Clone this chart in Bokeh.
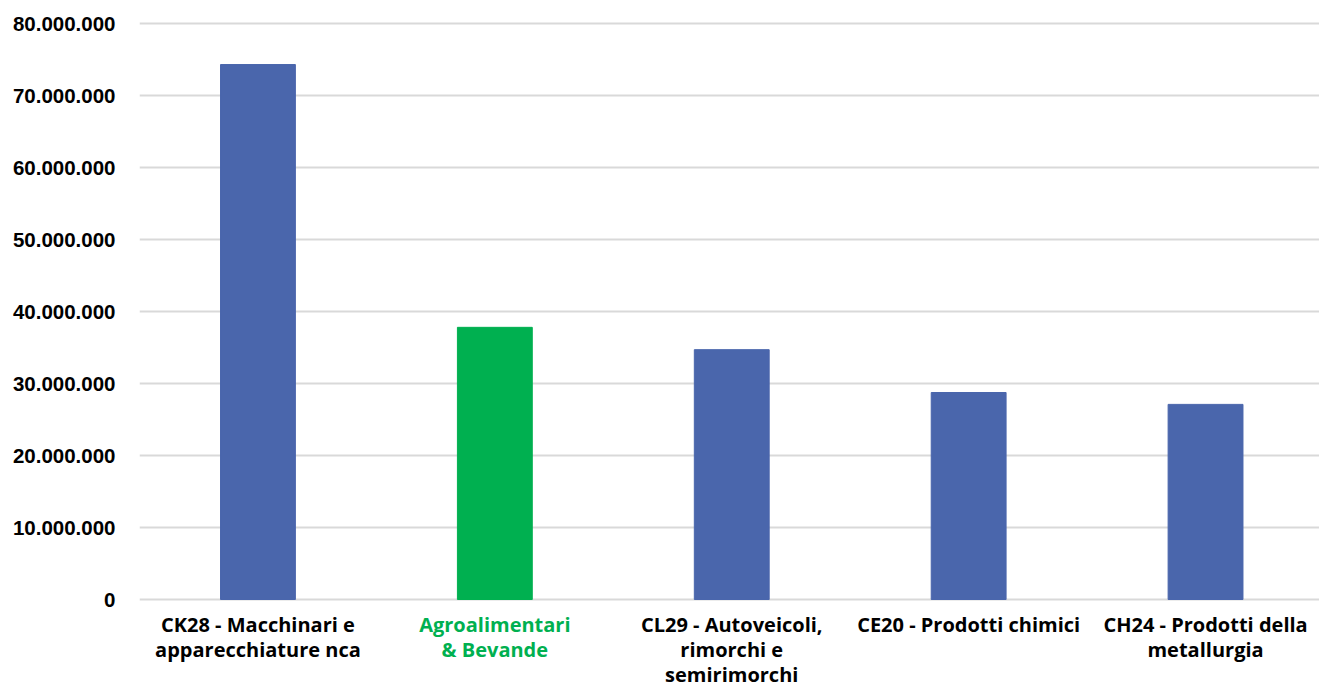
from bokeh.plotting import figure
from bokeh.models import Label, FixedTicker, Range1d, CustomJSTickFormatter
from bokeh.embed import file_html
from bokeh.resources import INLINE

categories = ["CK28 - Macchinari e\napparecchiature nca",
              "Agroalimentari\n& Bevande",
              "CL29 - Autoveicoli,\nrimorchi e\nsemirimorchi",
              "CE20 - Prodotti chimici",
              "CH24 - Prodotti della\nmetallurgia"]
values = [74300000, 37800000, 34700000, 28750000, 27100000]
colors = ["#4a66ac", "#00b050", "#4a66ac", "#4a66ac", "#4a66ac"]
label_colors = ["#000000", "#00b050", "#000000", "#000000", "#000000"]
y_ticks = [0, 10000000, 20000000, 30000000, 40000000, 50000000, 60000000, 70000000, 80000000]

xs = list(range(len(categories)))

p = figure(width=1319, height=687, output_backend="svg", toolbar_location=None,
           x_range=Range1d(-0.5, 4.481), y_range=Range1d(-12222000, 80556000),
           min_border_left=139, min_border_right=0, min_border_top=19, min_border_bottom=0)
p.outline_line_color = None
p.vbar(x=xs, bottom=0, top=values, width=0.316, color=colors)

p.xaxis.visible = False
p.xgrid.visible = False
p.yaxis.ticker = FixedTicker(ticks=y_ticks)
p.yaxis.formatter = CustomJSTickFormatter(code="return tick.toString().replace(/\\B(?=(\\d{3})+(?!\\d))/g, '.');")
p.yaxis.axis_line_color = None
p.yaxis.major_tick_line_color = None
p.yaxis.minor_tick_line_color = None
p.yaxis.major_label_text_font = "Liberation Sans"
p.yaxis.major_label_text_font_style = "bold"
p.yaxis.major_label_text_font_size = "20.5px"
p.yaxis.major_label_text_color = "#000000"
p.yaxis.major_label_standoff = 18
p.ygrid.ticker = FixedTicker(ticks=y_ticks)
p.ygrid.grid_line_color = "#d9d9d9"
p.ygrid.grid_line_width = 2

for x, txt, col in zip(xs, categories, label_colors):
    p.add_layout(Label(x=x, y=-1600000, text=txt, text_align="center",
                       text_baseline="top", text_color=col, text_font="Open Sans",
                       text_font_style="bold", text_font_size="20px",
                       text_line_height=0.93))

open("out.html", "w").write(file_html(p, INLINE))
